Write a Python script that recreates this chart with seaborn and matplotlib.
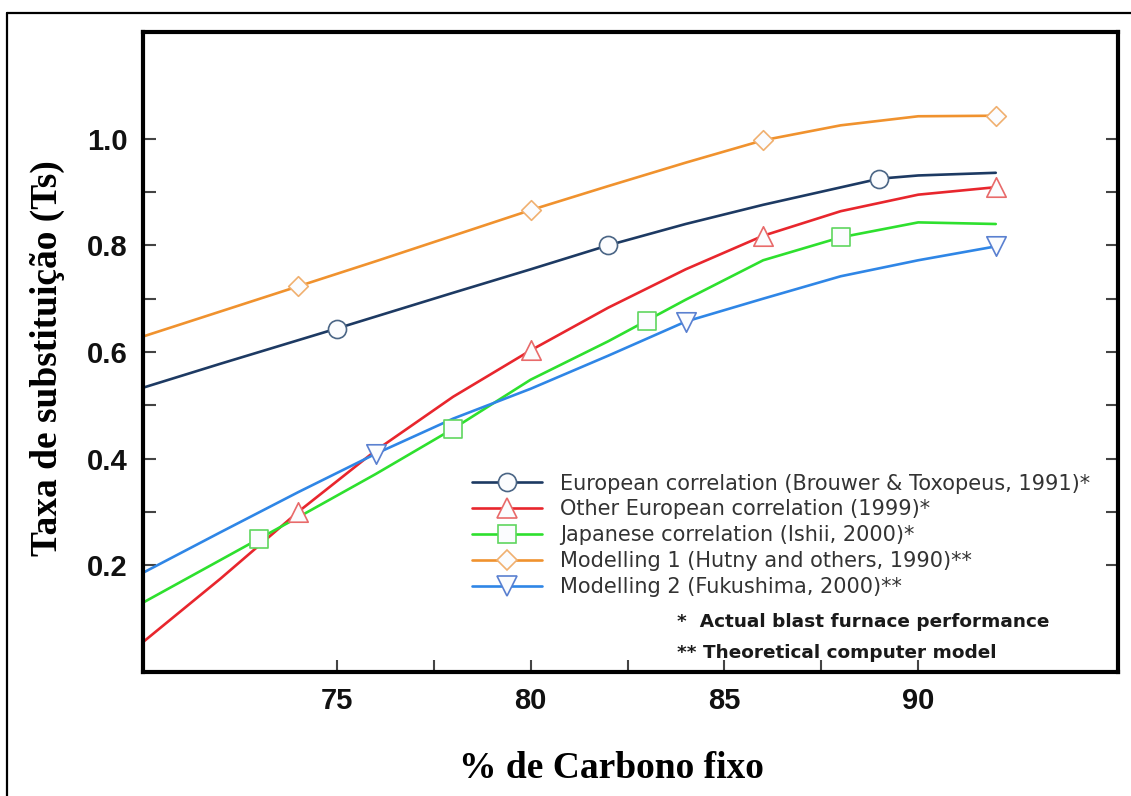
import numpy as np
import pandas as pd
import seaborn as sns
import matplotlib.pyplot as plt
from matplotlib.lines import Line2D
from matplotlib.ticker import FixedLocator

# curve points (x = % carbono fixo, y = Ts)
euro_x = [70, 72, 75, 78, 80, 82, 84, 86, 89, 90, 92]
euro_y = [0.533, 0.578, 0.644, 0.711, 0.755, 0.800, 0.840, 0.876, 0.925, 0.931, 0.936]
other_x = [70, 72, 74, 76, 78, 80, 82, 84, 86, 88, 90, 92]
other_y = [0.056, 0.175, 0.300, 0.415, 0.516, 0.603, 0.683, 0.755, 0.818, 0.864, 0.895, 0.909]
jap_x = [70, 72, 73, 74, 76, 78, 80, 82, 83, 84, 86, 88, 90, 92]
jap_y = [0.130, 0.210, 0.250, 0.290, 0.371, 0.456, 0.548, 0.620, 0.659, 0.698, 0.772, 0.815, 0.843, 0.840]
mod1_x = [70, 72, 74, 76, 78, 80, 82, 84, 86, 88, 90, 92]
mod1_y = [0.629, 0.676, 0.723, 0.770, 0.818, 0.866, 0.911, 0.955, 0.997, 1.025, 1.042, 1.043]
mod2_x = [70, 72, 74, 76, 78, 80, 82, 84, 86, 88, 90, 92]
mod2_y = [0.186, 0.262, 0.337, 0.409, 0.475, 0.531, 0.593, 0.657, 0.700, 0.742, 0.772, 0.798]

# marker positions
euro_mx, euro_my = [75, 82, 89], [0.644, 0.800, 0.925]
other_mx, other_my = [74, 80, 86, 92], [0.300, 0.603, 0.818, 0.909]
jap_mx, jap_my = [73, 78, 83, 88], [0.250, 0.456, 0.659, 0.815]
mod1_mx, mod1_my = [74, 80, 86, 92], [0.723, 0.866, 0.997, 1.043]
mod2_mx, mod2_my = [76, 84, 92], [0.409, 0.657, 0.798]

labels = ['European correlation (Brouwer & Toxopeus, 1991)*',
          'Other European correlation (1999)*',
          'Japanese correlation (Ishii, 2000)*',
          'Modelling 1 (Hutny and others, 1990)**',
          'Modelling 2 (Fukushima, 2000)**']

sns.set_style('ticks')
plt.rcParams['font.family'] = ['DejaVu Sans']
plt.rcParams['text.color'] = 'black'

fig = plt.figure(figsize=(11.31, 7.96), dpi=100)
ax = fig.add_axes([0.1264, 0.1558, 0.862, 0.804])

series = [
    (euro_x, euro_y, euro_mx, euro_my, '#1d3a63', '#4a6585', 'o', 13),
    (other_x, other_y, other_mx, other_my, '#e8262d', '#e86a6a', '^', 14),
    (jap_x, jap_y, jap_mx, jap_my, '#2ee02e', '#5fd65f', 's', 13),
    (mod1_x, mod1_y, mod1_mx, mod1_my, '#f0922e', '#f0b070', 'D', 10),
    (mod2_x, mod2_y, mod2_mx, mod2_my, '#2f86e6', '#5a80d0', 'v', 14),
]

handles = []
for (xs, ys, mx, my, col, mcol, mk, ms), lab in zip(series, labels):
    sns.lineplot(x=xs, y=ys, ax=ax, color=col, linewidth=1.9)
    sns.scatterplot(x=mx, y=my, ax=ax, marker=mk, s=ms**2, color='#fbfcfe',
                    edgecolor=mcol, linewidth=1.2, zorder=3)
    handles.append(Line2D([], [], color=col, lw=1.9, marker=mk, markersize=ms,
                          markerfacecolor='#fbfcfe', markeredgecolor=mcol,
                          markeredgewidth=1.2))

ax.set_xlim(70, 95.15)
ax.set_ylim(0, 1.2)
ax.xaxis.set_major_locator(FixedLocator([75, 80, 85, 90]))
ax.xaxis.set_minor_locator(FixedLocator([77.5, 82.5, 87.5]))
ax.yaxis.set_major_locator(FixedLocator([0.2, 0.4, 0.6, 0.8, 1.0]))
ax.yaxis.set_minor_locator(FixedLocator([0.3, 0.5, 0.7, 0.9]))
ax.set_xticklabels(['75', '80', '85', '90'])
ax.set_yticklabels(['0.2', '0.4', '0.6', '0.8', '1.0'])
ax.tick_params(which='both', direction='in', length=9, width=1.5, color='#444',
               left=True, right=True, top=False, bottom=True)
ax.tick_params(which='major', pad=11, labelsize=21, labelcolor='#111111')
for lab in ax.get_xticklabels() + ax.get_yticklabels():
    lab.set_family('Liberation Sans')
    lab.set_fontweight('bold')
for sp in ax.spines.values():
    sp.set_linewidth(3)
    sp.set_color('black')

ax.set_xlabel('')
ax.set_ylabel('')
fig.text(0.541, 0.035, '% de Carbono fixo', ha='center', va='center', color='black',
         family='Liberation Serif', fontweight='bold', fontsize=27)
fig.text(0.0416, 0.55, 'Taxa de substituição (Ts)', ha='center', va='center',
         rotation=90, color='black', family='Liberation Serif',
         fontweight='bold', fontsize=27)

leg = ax.legend(handles, labels, loc='upper left', bbox_to_anchor=(0.337, 0.31),
                frameon=False, borderaxespad=0, borderpad=0, handlelength=3.4,
                handletextpad=0.85, labelspacing=0.28, prop={'size': 15})
for t in leg.get_texts():
    t.set_color('#333333')

ax.text(0.548, 0.078, '*  Actual blast furnace performance', transform=ax.transAxes,
        ha='left', va='center', fontsize=13.3, fontweight='bold', color='#1a1a1a')
ax.text(0.548, 0.030, '** Theoretical computer model', transform=ax.transAxes,
        ha='left', va='center', fontsize=13.3, fontweight='bold', color='#1a1a1a')

# outer frame of the original figure
fig.add_artist(Line2D([7 / 1131, 1.0], [1 - 13 / 796, 1 - 13 / 796],
                      transform=fig.transFigure, color='black', lw=1.6))
fig.add_artist(Line2D([7 / 1131, 7 / 1131], [0.0, 1 - 13 / 796],
                      transform=fig.transFigure, color='black', lw=1.6))

fig.savefig('out.png', dpi=100)
